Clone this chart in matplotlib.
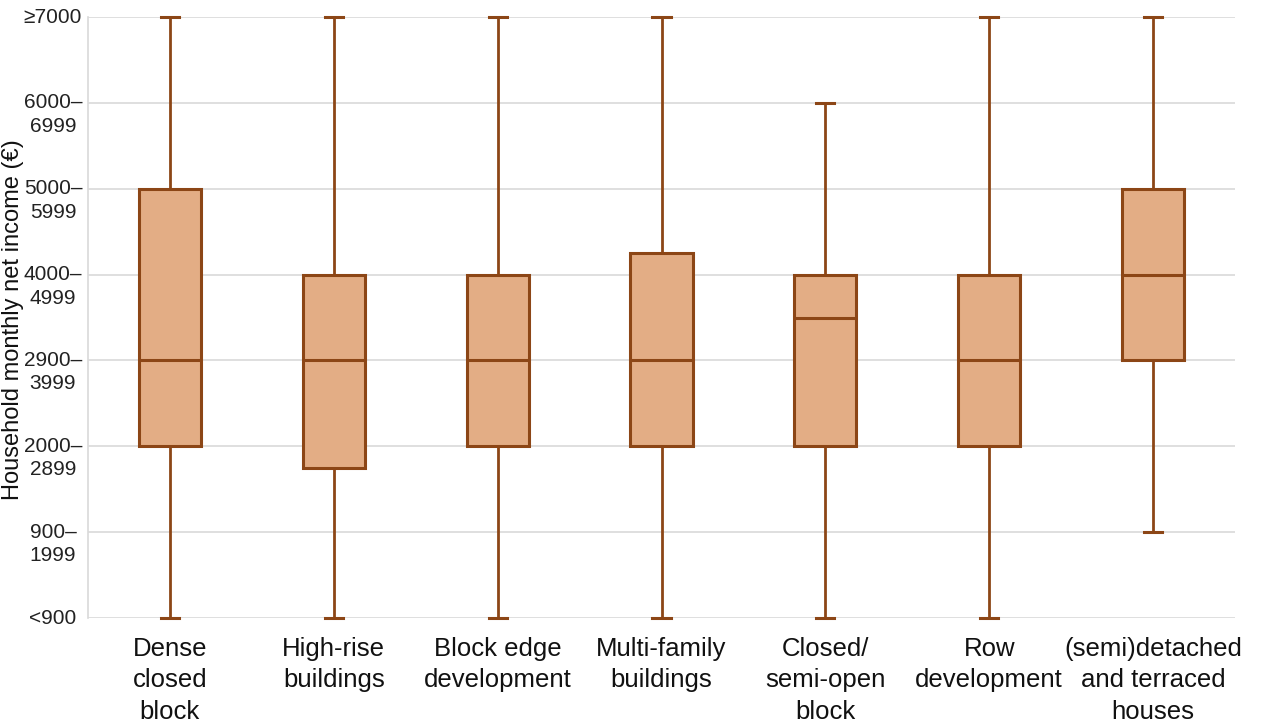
import matplotlib
matplotlib.use("Agg")
import matplotlib.pyplot as plt
import matplotlib.transforms as mtransforms

plt.rcParams['font.family'] = ['Liberation Sans', 'DejaVu Sans']

categories = ["Dense\nclosed\nblock", "High-rise\nbuildings", "Block edge\ndevelopment",
              "Multi-family\nbuildings", "Closed/\nsemi-open\nblock", "Row\ndevelopment",
              "(semi)detached\nand terraced\nhouses"]
whislo = [0, 0, 0, 0, 0, 0, 1]
q1 = [2, 1.75, 2, 2, 2, 2, 3]
med = [3, 3, 3, 3, 3.5, 3, 4]
q3 = [5, 4, 4, 4.25, 4, 4, 5]
whishi = [7, 7, 7, 7, 6, 7, 7]
ytick_labels = ["<900", "900–\n1999", "2000–\n2899", "2900–\n3999", "4000–\n4999",
                "5000–\n5999", "6000–\n6999", "≥7000"]

fill_c = "#E3AD85"
edge_c = "#8C4616"

W, H, DPI = 1262, 728, 100
fig = plt.figure(figsize=(W / DPI, H / DPI), dpi=DPI)
ax = fig.add_axes([88 / W, 1 - 618 / H, (1235 - 88) / W, (618 - 17) / H])

stats = []
for i in range(len(categories)):
    stats.append(dict(whislo=whislo[i], q1=q1[i], med=med[i], q3=q3[i],
                      whishi=whishi[i], fliers=[]))

bp = ax.bxp(stats, positions=list(range(len(categories))), widths=0.38,
            patch_artist=True, showfliers=False,
            boxprops=dict(facecolor=fill_c, edgecolor=edge_c, linewidth=2.2),
            medianprops=dict(color=edge_c, linewidth=2.2),
            whiskerprops=dict(color=edge_c, linewidth=2.0),
            capprops=dict(color=edge_c, linewidth=2.2),
            capwidths=0.11, zorder=3)
for k in ('caps', 'whiskers', 'boxes', 'medians'):
    for a in bp[k]:
        a.set_clip_on(False)

ax.set_xlim(-0.5, len(categories) - 0.5)
ax.set_ylim(0, 7)
ax.set_yticks(range(8))
ax.set_yticklabels([])
ax.yaxis.grid(True, color="#D9D9D9", linewidth=1.2, zorder=0)
ax.set_axisbelow(True)
for s in ('top', 'right', 'bottom'):
    ax.spines[s].set_visible(False)
ax.spines['left'].set_color("#D9D9D9")
ax.spines['left'].set_linewidth(1.2)
ax.tick_params(axis='y', length=0)
ax.tick_params(axis='x', length=0, pad=13.5)
ax.set_xticks(range(len(categories)))
ax.set_xticklabels(categories, fontsize=18.5, linespacing=1.4, color="#111111")

ytr = ax.get_yaxis_transform()
xcen = (53 - 88) / (1235 - 88)
for i, lab in enumerate(ytick_labels):
    lines = lab.split("\n")
    for j, ln in enumerate(lines):
        off = mtransforms.ScaledTranslation(0, -23.5 * j / DPI, fig.dpi_scale_trans)
        ax.text(xcen, i, ln, transform=ytr + off, ha='center', va='center',
                fontsize=15, color="#222222", clip_on=False)

fig.text(13 / W, 1 - 320 / H, "Household monthly net income (€)", rotation=90,
         ha='center', va='center', fontsize=17, color="#111111")

fig.savefig("out.png", dpi=DPI)
